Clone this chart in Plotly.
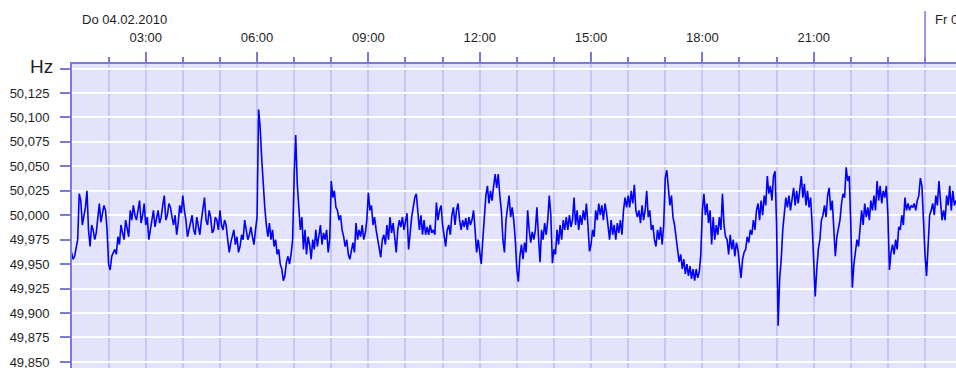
import pandas as pd
import plotly.graph_objects as go

# Grid frequency, 2.5-minute samples starting Do 04.02.2010 01:00 (Hz), one row per hour
start_time = "2010-02-04 01:00"
sample_seconds = 150
freq_hz = [
    49.962, 49.955, 49.958, 49.968, 49.975, 50.022, 50.015, 49.990, 50.000, 50.008, 50.025, 49.985, 49.968, 49.990, 49.985, 49.975, 49.982, 49.995, 50.012, 49.993, 50.000, 50.010, 50.005, 49.985,
    49.950, 49.944, 49.958, 49.962, 49.965, 49.960, 49.978, 49.970, 49.990, 49.982, 49.975, 49.995, 49.985, 49.978, 50.005, 49.995, 50.010, 50.000, 49.995, 50.008, 50.015, 49.992, 50.000, 50.012,
    49.990, 49.998, 49.975, 49.985, 49.995, 50.005, 49.988, 49.995, 50.005, 49.992, 49.998, 50.010, 50.020, 49.995, 50.000, 50.012, 50.008, 49.998, 49.990, 50.000, 49.980, 49.992, 50.010, 50.002,
    50.020, 50.005, 49.995, 49.978, 49.985, 49.995, 50.000, 49.985, 49.980, 49.998, 49.990, 49.980, 49.995, 50.005, 50.018, 49.995, 49.990, 50.005, 49.998, 49.982, 49.985, 49.998, 49.995, 49.985,
    50.005, 49.990, 49.985, 49.995, 49.990, 49.975, 49.962, 49.972, 49.978, 49.985, 49.970, 49.978, 49.962, 49.968, 49.980, 49.975, 49.995, 49.985, 49.975, 49.980, 49.988, 49.978, 49.970, 49.985,
    49.998, 50.108, 50.090, 50.058, 50.025, 50.008, 49.990, 49.978, 49.992, 49.975, 49.985, 49.968, 49.975, 49.960, 49.965, 49.950, 49.945, 49.933, 49.938, 49.952, 49.958, 49.950, 49.960, 49.975,
    50.040, 50.082, 50.032, 50.010, 49.985, 49.998, 49.965, 49.985, 49.960, 49.978, 49.970, 49.955, 49.975, 49.965, 49.985, 49.968, 49.978, 49.990, 49.970, 49.982, 49.975, 49.985, 49.962, 49.975,
    50.035, 50.018, 50.025, 50.008, 50.005, 49.995, 50.000, 49.985, 49.978, 49.968, 49.975, 49.960, 49.955, 49.965, 49.972, 49.962, 49.992, 49.975, 49.985, 49.978, 49.990, 49.975, 49.982, 49.995,
    50.023, 50.005, 50.010, 49.990, 49.998, 49.985, 49.975, 49.965, 49.957, 49.975, 49.980, 49.970, 49.990, 49.975, 49.998, 49.982, 49.992, 49.978, 49.962, 49.985, 49.995, 49.988, 49.998, 49.985,
    49.995, 50.002, 49.965, 49.985, 49.998, 50.008, 50.018, 50.022, 50.005, 49.985, 50.000, 49.980, 49.995, 49.980, 49.988, 49.980, 49.990, 49.982, 49.985, 49.980, 50.013, 49.995, 50.005, 50.010,
    49.990, 49.980, 49.968, 49.985, 49.990, 49.980, 50.000, 50.008, 49.990, 50.005, 50.012, 49.995, 49.985, 49.995, 49.988, 49.997, 49.985, 49.998, 49.990, 49.995, 50.005, 49.985, 49.962, 49.975,
    49.960, 49.950, 49.975, 50.000, 50.020, 50.030, 50.012, 50.025, 50.015, 50.030, 50.042, 50.028, 50.042, 50.020, 50.005, 49.975, 49.962, 49.995, 50.008, 50.020, 49.998, 50.008, 49.995, 49.975,
    49.945, 49.932, 49.958, 49.970, 49.955, 49.972, 49.962, 50.005, 49.985, 49.972, 49.983, 49.975, 49.985, 50.008, 49.978, 49.952, 49.985, 49.975, 49.992, 49.980, 49.995, 50.020, 50.000, 49.951,
    49.965, 49.960, 49.985, 49.970, 49.990, 49.975, 49.995, 49.985, 49.998, 49.985, 50.000, 49.988, 49.995, 50.018, 49.990, 50.005, 49.985, 50.000, 49.990, 50.005, 49.995, 50.012, 49.990, 49.963,
    49.970, 49.985, 49.978, 50.005, 49.995, 50.012, 50.000, 50.010, 49.995, 50.012, 50.003, 49.990, 49.975, 49.995, 49.980, 49.990, 49.975, 49.992, 49.982, 49.995, 49.980, 50.005, 50.018, 50.008,
    50.020, 50.008, 50.025, 50.012, 50.031, 50.005, 49.998, 50.005, 49.992, 50.010, 49.995, 50.005, 50.025, 49.998, 50.005, 49.985, 49.990, 49.975, 49.968, 49.985, 49.975, 49.988, 49.970, 49.990,
    50.038, 50.046, 50.030, 50.010, 50.020, 49.998, 49.990, 49.975, 49.965, 49.952, 49.960, 49.945, 49.955, 49.940, 49.950, 49.938, 49.948, 49.935, 49.945, 49.933, 49.945, 49.936, 49.942, 49.960,
    50.005, 50.022, 50.000, 50.012, 49.992, 50.005, 49.970, 49.998, 49.975, 49.990, 49.980, 49.998, 49.985, 50.022, 49.990, 49.978, 49.975, 49.960, 49.980, 49.965, 49.975, 49.958, 49.972, 49.965,
    49.950, 49.936, 49.955, 49.962, 49.965, 49.978, 49.972, 49.985, 49.980, 49.995, 49.985, 50.005, 50.012, 49.995, 50.015, 50.000, 50.020, 50.010, 50.040, 50.022, 50.030, 50.015, 50.040, 50.045,
    49.990, 49.887, 49.935, 49.955, 49.985, 50.005, 50.018, 50.008, 50.020, 50.005, 50.015, 50.028, 50.010, 50.025, 50.012, 50.030, 50.040, 50.018, 50.032, 50.010, 50.025, 50.008, 50.018, 49.990,
    49.950, 49.917, 49.945, 49.965, 49.975, 49.995, 50.000, 50.010, 49.998, 50.020, 50.028, 50.005, 50.015, 49.985, 49.958, 49.978, 49.985, 49.995, 50.012, 50.022, 50.018, 50.049, 50.035, 50.040,
    49.990, 49.926, 49.950, 49.962, 49.975, 49.968, 49.985, 50.005, 49.990, 50.012, 49.998, 50.008, 49.995, 50.015, 50.005, 50.020, 50.005, 50.035, 50.015, 50.030, 50.012, 50.025, 50.018, 50.030,
    50.000, 49.944, 49.962, 49.970, 49.960, 49.975, 49.965, 49.988, 49.985, 50.000, 49.990, 50.018, 50.005, 50.012, 50.005, 50.010, 50.008, 50.012, 50.005, 50.015, 50.020, 50.038, 50.030, 49.990,
    49.960, 49.938, 49.965, 50.000, 50.005, 50.012, 50.000, 50.020, 50.010, 50.035, 50.015, 49.995, 50.005, 49.995, 50.020, 50.010, 50.030, 50.005, 50.025, 50.010, 50.015,
]

x_tick_vals = ["2010-02-04 03:00", "2010-02-04 06:00", "2010-02-04 09:00", "2010-02-04 12:00",
               "2010-02-04 15:00", "2010-02-04 18:00", "2010-02-04 21:00"]
x_tick_text = ["03:00", "06:00", "09:00", "12:00", "15:00", "18:00", "21:00"]
y_tick_vals = [49.850, 49.875, 49.900, 49.925, 49.950, 49.975, 50.000,
               50.025, 50.050, 50.075, 50.100, 50.125, 50.150]
y_tick_text = ["49,850", "49,875", "49,900", "49,925", "49,950", "49,975", "50,000",
               "50,025", "50,050", "50,075", "50,100", "50,125", ""]
y_unit = "Hz"
day1_label = "Do 04.02.2010"
day2_label = "Fr 05.02.2010"
day2_start = "2010-02-05 00:00"
x_range = ["2010-02-04 01:00:48", "2010-02-05 00:50:06"]
y_range = [49.8438, 50.1546]

times = pd.date_range(start_time, periods=len(freq_hz), freq=f"{sample_seconds}s")

AXIS = "#7a7ada"
VGRID = "#c6c6f6"
BG = "#e3e3fb"
TXT = "#1e1e1e"
FONT = "Liberation Sans, Arial, sans-serif"

fig = go.Figure()
fig.add_trace(go.Scatter(x=times, y=freq_hz, mode="lines",
                         line=dict(color="#0000ff", width=1.6), hoverinfo="x+y"))

fig.update_layout(
    width=956, height=368,
    margin=dict(l=72, r=0, t=64, b=0, pad=0),
    paper_bgcolor="white", plot_bgcolor=BG,
    showlegend=False,
    font=dict(family=FONT, size=13, color=TXT),
)

fig.update_xaxes(
    type="date", side="top", range=x_range, automargin=False,
    tickmode="array", tickvals=x_tick_vals, ticktext=x_tick_text,
    ticks="outside", ticklen=10, tickwidth=1.5, tickcolor=AXIS,
    ticklabelstandoff=5, ticklabeloverflow="allow",
    showline=True, linecolor=AXIS, linewidth=2,
    showgrid=True, gridcolor=VGRID, gridwidth=1.6,
    zeroline=False,
    tickfont=dict(family=FONT, size=13, color=TXT),
    minor=dict(tickmode="linear", tick0="2010-02-04 00:00", dtick=3600000,
               ticks="outside", ticklen=5, tickwidth=1.5, tickcolor=AXIS,
               showgrid=True, gridcolor=VGRID, gridwidth=1.6),
)

fig.update_yaxes(
    range=y_range, automargin=False,
    tickmode="array", tickvals=y_tick_vals, ticktext=y_tick_text,
    ticks="outside", ticklen=10, tickwidth=1.5, tickcolor=AXIS,
    ticklabelstandoff=8, ticklabeloverflow="allow",
    showline=True, linecolor=AXIS, linewidth=2,
    showgrid=True, gridcolor="white", gridwidth=1.6,
    zeroline=False,
    tickfont=dict(family=FONT, size=13, color=TXT),
)

# day boundary: white line through plot and long tick above the axis
fig.add_shape(type="line", xref="x", yref="paper", x0=day2_start, x1=day2_start,
              y0=0, y1=1, line=dict(color="white", width=2), layer="between")
fig.add_shape(type="line", xref="x", yref="paper", x0=day2_start, x1=day2_start,
              y0=1, y1=1 + 53 / 304, line=dict(color=AXIS, width=1.5), layer="above")

fig.add_annotation(text=day1_label, xref="paper", yref="paper", x=8 / 884, y=1 + 45 / 304,
                   xanchor="left", yanchor="middle", showarrow=False,
                   font=dict(family=FONT, size=13, color=TXT))
fig.add_annotation(text=day2_label, xref="x", yref="paper", x=day2_start, y=1 + 45 / 304,
                   xanchor="left", yanchor="middle", xshift=8, showarrow=False,
                   font=dict(family=FONT, size=13, color=TXT))
fig.add_annotation(text=y_unit, xref="paper", yref="y", x=-17 / 884, y=50.152,
                   xanchor="right", yanchor="middle", showarrow=False,
                   font=dict(family=FONT, size=19, color=TXT))

fig.write_html("out.html", config={"displayModeBar": False},
               post_script="document.body.style.margin='0px';")
